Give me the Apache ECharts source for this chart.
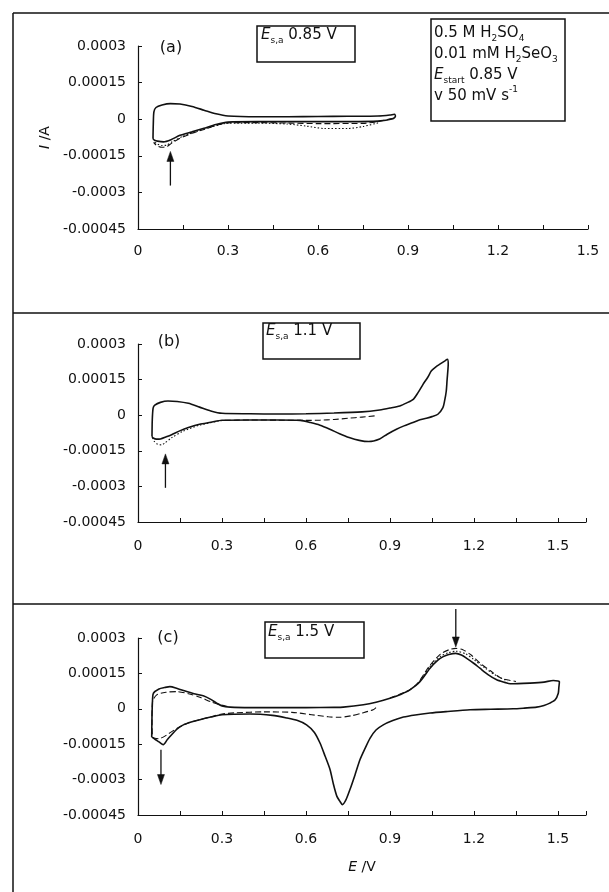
<!DOCTYPE html>
<html><head><meta charset="utf-8">
<script src="https://cdn.jsdelivr.net/npm/echarts@6/dist/echarts.min.js"></script>
<style>html,body{margin:0;padding:0;background:#fff}#c{width:609px;height:892px}</style>
</head><body><div id="c"></div>
<script>
// ---- tick labels & texts ----
const xTickLabels = ['0', '0.3', '0.6', '0.9', '1.2', '1.5'];
const yTickLabels = ['-0.00045', '-0.0003', '-0.00015', '0', '0.00015', '0.0003'];
const panelTags = ['(a)', '(b)', '(c)'];
const switchPotentials = ['0.85 V', '1.1 V', '1.5 V'];
const xMaxByPanel = [1.5, 1.6, 1.6];

// ---- panel (a): E_s,a 0.85 V ----
const a_solid = [[0.05,-0.00008],[0.051,-0.00002],[0.053,0.00003],[0.06,0.000048],[0.08,0.000058],[0.108,0.000064],[0.14,0.000062],[0.18,0.000052],[0.22,0.000037],[0.26,0.000022],[0.3,0.000013],[0.4,0.00001],[0.5,0.00001],[0.6,0.000011],[0.7,0.000012],[0.8,0.000013],[0.84,0.000017],[0.855,0.00002],[0.858,0.000012],[0.85,0.000002],[0.8,-0.000008],[0.7,-0.00001],[0.6,-0.00001],[0.5,-0.00001],[0.4,-0.00001],[0.3,-0.000012],[0.26,-0.000022],[0.22,-0.000037],[0.18,-0.000052],[0.14,-0.000066],[0.11,-0.000084],[0.085,-0.000093],[0.065,-0.00009],[0.055,-0.000086],[0.05,-0.00008]];
const a_dashed = [[0.85,0.000004],[0.8,-0.00001],[0.75,-0.000017],[0.6,-0.000018],[0.5,-0.000016],[0.4,-0.000014],[0.3,-0.000015],[0.26,-0.000026],[0.22,-0.000042],[0.18,-0.000058],[0.14,-0.000078],[0.11,-0.0001],[0.097,-0.000112],[0.08,-0.000115],[0.062,-0.000108],[0.052,-0.000095]];
const a_dotted = [[0.8,-0.000015],[0.75,-0.00003],[0.7,-0.000038],[0.62,-0.000038],[0.56,-0.000028],[0.5,-0.00002],[0.4,-0.000016],[0.3,-0.000016],[0.25,-0.00003],[0.2,-0.000048],[0.15,-0.00007],[0.115,-0.000092],[0.095,-0.000106],[0.08,-0.000108],[0.065,-0.000102],[0.055,-0.000094]];

// ---- panel (b): E_s,a 1.1 V ----
const b_solid = [[0.05,-0.00009],[0.051,-0.00002],[0.054,0.00003],[0.06,0.000042],[0.08,0.000054],[0.107,0.00006],[0.14,0.000058],[0.18,0.00005],[0.22,0.000034],[0.26,0.000018],[0.3,0.000008],[0.4,0.000006],[0.5,0.000005],[0.6,0.000006],[0.7,0.000009],[0.8,0.000014],[0.863,0.000022],[0.9,0.00003],[0.935,0.000039],[0.96,0.000052],[0.983,0.000067],[1.0,0.000095],[1.018,0.00013],[1.035,0.00016],[1.048,0.000187],[1.065,0.000205],[1.078,0.000215],[1.095,0.000228],[1.105,0.000236],[1.108,0.000215],[1.107,0.000194],[1.104,0.00015],[1.101,0.000102],[1.095,0.00006],[1.089,0.000032],[1.071,0.000004],[1.05,-0.000006],[1.03,-0.000013],[1.0,-0.000022],[0.982,-0.000031],[0.95,-0.000045],[0.923,-0.000059],[0.89,-0.00008],[0.863,-0.0001],[0.824,-0.000111],[0.79,-0.000106],[0.754,-0.000094],[0.72,-0.000078],[0.685,-0.000059],[0.65,-0.000042],[0.616,-0.000031],[0.58,-0.000022],[0.5,-0.00002],[0.4,-0.00002],[0.3,-0.000021],[0.26,-0.00003],[0.22,-0.000038],[0.18,-0.000052],[0.149,-0.000066],[0.12,-0.000082],[0.101,-0.000091],[0.08,-0.0001],[0.066,-0.000101],[0.054,-0.000096],[0.05,-0.00009]];
const b_dashed = [[0.845,-0.000003],[0.8,-0.000008],[0.75,-0.000013],[0.7,-0.000018],[0.65,-0.000021],[0.6,-0.000022],[0.5,-0.000021],[0.4,-0.00002],[0.3,-0.000022]];
const b_dotted = [[0.3,-0.000022],[0.22,-0.000042],[0.16,-0.000068],[0.12,-0.000095],[0.095,-0.000118],[0.084,-0.000125],[0.07,-0.000122],[0.058,-0.00011],[0.052,-0.000095]];

// ---- panel (c): E_s,a 1.5 V ----
const c_solid = [[0.049,-0.00012],[0.05,-0.00003],[0.052,0.00004],[0.055,0.000066],[0.075,0.000084],[0.095,0.00009],[0.114,0.000094],[0.14,0.000086],[0.174,0.000073],[0.2,0.000064],[0.233,0.000055],[0.26,0.00004],[0.281,0.000024],[0.3,0.000012],[0.329,0.000007],[0.4,0.000005],[0.5,0.000005],[0.6,0.000005],[0.7,0.000006],[0.733,0.000007],[0.805,0.000017],[0.85,0.000028],[0.9,0.000045],[0.94,0.000062],[0.971,0.00008],[1.007,0.000115],[1.043,0.000172],[1.07,0.000205],[1.09,0.000221],[1.11,0.00023],[1.135,0.000235],[1.155,0.000228],[1.174,0.000214],[1.2,0.000192],[1.221,0.000172],[1.25,0.000145],[1.281,0.000123],[1.31,0.000112],[1.329,0.000106],[1.4,0.000109],[1.45,0.000113],[1.483,0.00012],[1.5,0.000118],[1.505,0.000115],[1.503,0.00009],[1.501,0.000066],[1.49,0.000038],[1.471,0.000024],[1.45,0.000014],[1.424,0.000007],[1.38,0.000003],[1.34,0],[1.26,-0.000002],[1.186,-0.000004],[1.1,-0.000012],[1.043,-0.000018],[0.99,-0.000026],[0.948,-0.000035],[0.91,-0.00005],[0.876,-0.000068],[0.85,-0.00009],[0.829,-0.000124],[0.81,-0.00017],[0.793,-0.000215],[0.775,-0.00028],[0.757,-0.000342],[0.743,-0.000385],[0.73,-0.000406],[0.72,-0.00039],[0.71,-0.00037],[0.698,-0.00032],[0.686,-0.000258],[0.668,-0.0002],[0.65,-0.000145],[0.63,-0.0001],[0.602,-0.000068],[0.57,-0.00005],[0.531,-0.000039],[0.48,-0.000028],[0.4,-0.000022],[0.3,-0.000025],[0.26,-0.000035],[0.221,-0.000046],[0.19,-0.000056],[0.162,-0.000068],[0.14,-0.000085],[0.12,-0.00011],[0.105,-0.00013],[0.09,-0.000152],[0.075,-0.00014],[0.062,-0.00013],[0.055,-0.000124],[0.049,-0.00012]];
const c_dashed = [[0.85,0.000005],[0.84,-0.000004],[0.8,-0.000018],[0.76,-0.00003],[0.72,-0.000036],[0.68,-0.000034],[0.62,-0.000025],[0.55,-0.000015],[0.45,-0.000013],[0.35,-0.000017],[0.3,-0.000022],[0.26,-0.000034],[0.22,-0.000046],[0.18,-0.00006],[0.14,-0.000082],[0.11,-0.000105],[0.09,-0.00012],[0.075,-0.000127],[0.06,-0.000125],[0.052,-0.00012],[0.05,-0.00005],[0.052,0.00003],[0.067,0.000059],[0.1,0.00007],[0.138,0.000073],[0.18,0.000064],[0.221,0.000049],[0.26,0.00003],[0.293,0.000017],[0.33,0.000007]];
const c_dashed_peak = [[0.9,0.000046],[0.97,0.00008],[1.0,0.00011],[1.04,0.00018],[1.08,0.000232],[1.11,0.00025],[1.135,0.000256],[1.16,0.00025],[1.19,0.000228],[1.22,0.000195],[1.26,0.00016],[1.3,0.000128],[1.35,0.000116]];
const c_dotted = [[1.0,0.000105],[1.04,0.000175],[1.08,0.000222],[1.11,0.000238],[1.135,0.000244],[1.17,0.000233],[1.2,0.000208],[1.24,0.000172],[1.28,0.00014],[1.32,0.000118]];

// ---- arrows: [panel, E, I from, I to] ----
const arrowSpecs = [[0, 0.108, -0.000272, -0.000132], [1, 0.098, -0.000306, -0.000163], [2, 0.082, -0.000173, -0.000321], [2, 1.135, 0.000423, 0.000262]];

const FONT = 'DejaVu Sans';
const INK = '#111';
const grids = [
  {left: 138, top: 46, width: 450, height: 183},
  {left: 138, top: 344, width: 448, height: 178},
  {left: 138, top: 638, width: 448, height: 177}
];

function xAxisFor(i) {
  const ax = {
    type: 'value', gridIndex: i, min: 0, max: xMaxByPanel[i], interval: 0.15,
    axisLine: {show: true, onZero: false, lineStyle: {color: INK, width: 1.2}},
    axisTick: {show: true, inside: true, length: 4, lineStyle: {color: INK, width: 1}},
    axisLabel: {margin: i === 0 ? 15 : 17, color: INK, fontFamily: FONT, fontSize: 14,
      formatter: v => { const k = Math.round(v / 0.3); return (Math.abs(v - k * 0.3) < 1e-6 && k < xTickLabels.length) ? xTickLabels[k] : ''; }},
    splitLine: {show: false}
  };
  if (i === 2) {
    ax.name = '{i|E} /V';
    ax.nameLocation = 'middle';
    ax.nameGap = 45;
    ax.nameTextStyle = {fontFamily: FONT, fontSize: 14, color: INK,
      rich: {i: {fontFamily: FONT, fontSize: 14, fontStyle: 'italic', color: INK}}};
  }
  return ax;
}
function yAxisFor(i) {
  const ax = {
    type: 'value', gridIndex: i, min: -0.00045, max: 0.0003, interval: 0.00015,
    axisLine: {show: true, onZero: false, lineStyle: {color: INK, width: 1.2}},
    axisTick: {show: true, inside: true, length: 4, lineStyle: {color: INK, width: 1}},
    axisLabel: {margin: 12, color: INK, fontFamily: FONT, fontSize: 14,
      formatter: v => { const k = Math.round((v + 0.00045) / 0.00015); return yTickLabels[k] || ''; }},
    splitLine: {show: false}
  };
  if (i === 0) {
    ax.name = '{i|I} /A';
    ax.nameLocation = 'middle';
    ax.nameRotate = 90;
    ax.nameGap = 86;
    ax.nameTextStyle = {fontFamily: FONT, fontSize: 14, color: INK,
      rich: {i: {fontFamily: FONT, fontSize: 14, fontStyle: 'italic', color: INK}}};
  }
  return ax;
}
const lineKinds = {
  solid: {type: 'solid', width: 1.6},
  dashed: {type: [6, 3], width: 1.1},
  dotted: {type: [1.5, 2], width: 1.1}
};
function lineSeries(i, data, kind) {
  return {type: 'line', xAxisIndex: i, yAxisIndex: i, data: data, symbol: 'none', showSymbol: false,
    smooth: 0.25, silent: true, clip: false, z: kind === 'solid' ? 3 : 2,
    lineStyle: Object.assign({color: INK}, lineKinds[kind])};
}

const richBase = {
  i: {fontFamily: FONT, fontSize: 15, fontStyle: 'italic', lineHeight: 20, verticalAlign: 'middle', fill: INK},
  m: {fontFamily: FONT, fontSize: 15, lineHeight: 20, verticalAlign: 'middle', fill: INK},
  s: {fontFamily: FONT, fontSize: 9, lineHeight: 9, verticalAlign: 'bottom', fill: INK},
  p: {fontFamily: FONT, fontSize: 9, lineHeight: 9, verticalAlign: 'top', fill: INK}
};
const richLegend = {
  i: {fontFamily: FONT, fontSize: 15, fontStyle: 'italic', lineHeight: 21, verticalAlign: 'middle', fill: INK},
  m: {fontFamily: FONT, fontSize: 15, lineHeight: 21, verticalAlign: 'middle', fill: INK},
  s: {fontFamily: FONT, fontSize: 9, lineHeight: 9, verticalAlign: 'bottom', fill: INK},
  p: {fontFamily: FONT, fontSize: 9, lineHeight: 9, verticalAlign: 'top', fill: INK}
};

const frameStyle = {stroke: INK, lineWidth: 1.5};
const graphics = [
  {type: 'line', id: 'fTop', shape: {x1: 13, y1: 13, x2: 609, y2: 13}, style: frameStyle},
  {type: 'line', id: 'fLeft', shape: {x1: 13, y1: 13, x2: 13, y2: 892}, style: frameStyle},
  {type: 'line', id: 'fMid1', shape: {x1: 13, y1: 313, x2: 609, y2: 313}, style: frameStyle},
  {type: 'line', id: 'fMid2', shape: {x1: 13, y1: 604, x2: 609, y2: 604}, style: frameStyle},
  // legend box
  {type: 'rect', id: 'legBox', shape: {x: 431, y: 19, width: 134, height: 102}, style: {fill: 'none', stroke: INK, lineWidth: 1.5}},
  {type: 'text', id: 'legText', x: 434, y: 22.5, style: {
    text: '{m|0.5 M H}{s|2}{m|SO}{s|4}\n{m|0.01 mM H}{s|2}{m|SeO}{s|3}\n{i|E}{s|start}{m| 0.85 V}\n{m|v 50 mV s}{p|-1}',
    rich: richLegend, align: 'left', verticalAlign: 'top', fill: INK}}
];
const boxPos = [
  {rect: [257, 26, 98, 36], tx: 261, ty: 25},
  {rect: [263, 323, 97, 36], tx: 266, ty: 321},
  {rect: [265, 622, 99, 36], tx: 268, ty: 622}
];
const tagPos = [[171, 48], [169, 342], [168, 638]];
for (let i = 0; i < 3; i++) {
  const b = boxPos[i];
  graphics.push({type: 'rect', id: 'box' + i, shape: {x: b.rect[0], y: b.rect[1], width: b.rect[2], height: b.rect[3]},
    style: {fill: 'none', stroke: INK, lineWidth: 1.5}});
  graphics.push({type: 'text', id: 'boxT' + i, x: b.tx, y: b.ty, style: {
    text: '{i|E}{s|s,a}{m| ' + switchPotentials[i] + '}', rich: richBase, align: 'left', verticalAlign: 'top', fill: INK}});
  graphics.push({type: 'text', id: 'tag' + i, x: tagPos[i][0], y: tagPos[i][1], style: {
    text: panelTags[i], fontFamily: FONT, fontSize: 16, fill: INK, align: 'center', verticalAlign: 'middle'}});
}

const series = [
  lineSeries(0, a_dotted, 'dotted'), lineSeries(0, a_dashed, 'dashed'), lineSeries(0, a_solid, 'solid'),
  lineSeries(1, b_dotted, 'dotted'), lineSeries(1, b_dashed, 'dashed'), lineSeries(1, b_solid, 'solid'),
  lineSeries(2, c_dotted, 'dotted'), lineSeries(2, c_dashed, 'dashed'), lineSeries(2, c_dashed_peak, 'dashed'), lineSeries(2, c_solid, 'solid')
];

const chart = echarts.init(document.getElementById('c'), null, {renderer: 'canvas'});
chart.setOption({
  backgroundColor: '#fff',
  animation: false,
  grid: grids,
  xAxis: [0, 1, 2].map(xAxisFor),
  yAxis: [0, 1, 2].map(yAxisFor),
  series: series,
  graphic: graphics
});

// arrows placed through the axes' own scales
const arrowEls = [];
arrowSpecs.forEach((a, k) => {
  const p0 = chart.convertToPixel({gridIndex: a[0]}, [a[1], a[2]]);
  const p1 = chart.convertToPixel({gridIndex: a[0]}, [a[1], a[3]]);
  const dir = p1[1] > p0[1] ? 1 : -1;
  const headLen = 10, halfW = 3.5;
  arrowEls.push({type: 'line', id: 'arS' + k, shape: {x1: p0[0], y1: p0[1], x2: p1[0], y2: p1[1] - dir * headLen * 0.6},
    style: {stroke: INK, lineWidth: 1.3}});
  arrowEls.push({type: 'polygon', id: 'arH' + k, shape: {points: [[p1[0], p1[1]], [p1[0] - halfW, p1[1] - dir * headLen], [p1[0] + halfW, p1[1] - dir * headLen]]},
    style: {fill: INK, stroke: INK, lineWidth: 0.5}});
});
chart.setOption({graphic: arrowEls});
</script></body></html>
